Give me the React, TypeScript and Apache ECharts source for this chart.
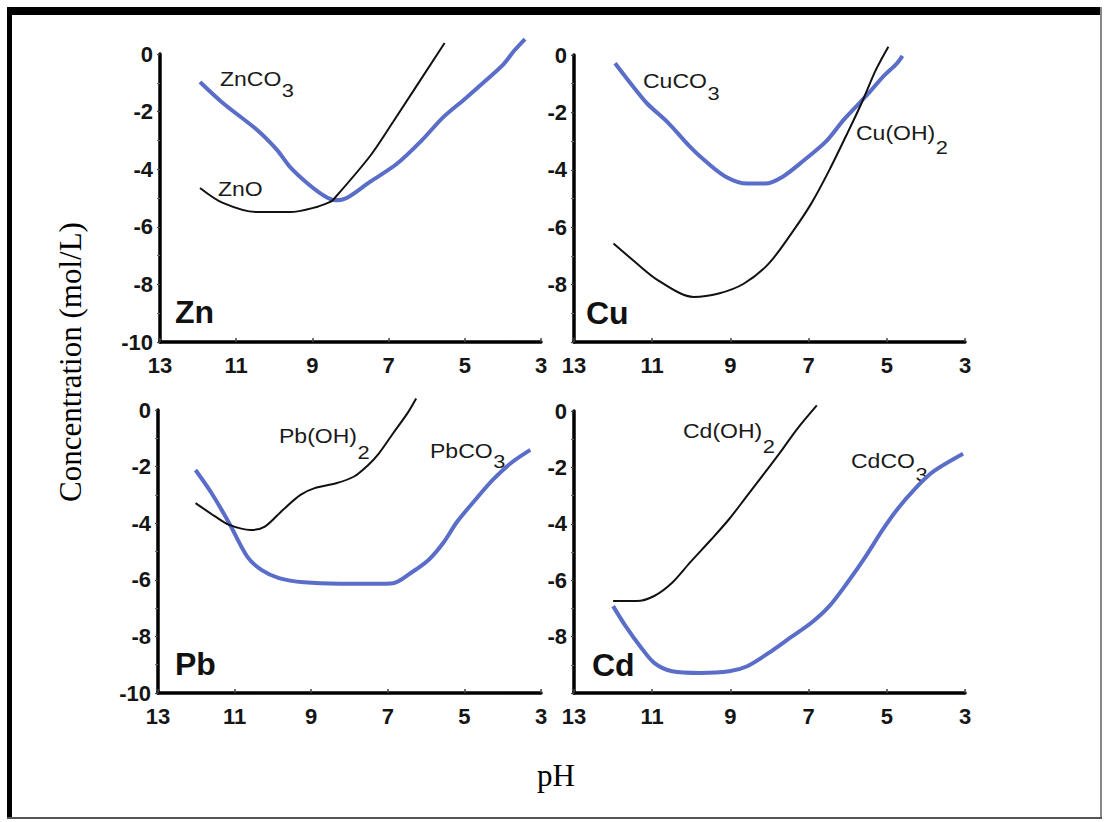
import React, { useEffect, useRef } from "react";
import * as echarts from "echarts";

// pH axis ticks (reversed) and log concentration ticks
const phTicks = [13, 11, 9, 7, 5, 3];
const concTicks = [0, -2, -4, -6, -8, -10];

const panelNames = ["Zn", "Cu", "Pb", "Cd"];

// Zn panel
const znCO3: [number, number][] = [
  [11.95, -0.97], [11.35, -1.7], [10.45, -2.64], [9.93, -3.33], [9.59, -3.92],
  [9.14, -4.48], [8.72, -4.9], [8.4, -5.08], [8.1, -5.0], [7.49, -4.44],
  [6.79, -3.82], [6.13, -3.0], [5.57, -2.2], [5.0, -1.56], [4.45, -0.92],
  [3.98, -0.35], [3.7, 0.12], [3.42, 0.52],
];
const znO: [number, number][] = [
  [11.95, -4.65], [11.35, -5.17], [10.45, -5.49], [9.59, -5.49], [8.88, -5.31],
  [8.54, -5.14], [8.46, -5.07], [7.49, -3.55], [6.88, -2.35], [5.53, 0.38],
];

// Cu panel
const cuCO3: [number, number][] = [
  [11.95, -0.29], [11.49, -1.1], [11.13, -1.69], [10.58, -2.38], [10.03, -3.2],
  [9.67, -3.66], [9.12, -4.24], [8.57, -4.48], [8.11, -4.48], [7.66, -4.24],
  [7.11, -3.66], [6.56, -3.02], [6.11, -2.27], [5.83, -1.86], [5.47, -1.34],
  [5.1, -0.76], [4.74, -0.29], [4.6, -0.03],
];
const cuOH2: [number, number][] = [
  [11.99, -6.57], [11.49, -7.15], [10.85, -7.85], [9.94, -8.43], [9.3, -8.31],
  [8.66, -7.97], [8.02, -7.27], [7.38, -6.1], [6.93, -5.17], [6.47, -4.01],
  [6.01, -2.73], [5.65, -1.69], [5.28, -0.52], [4.96, 0.29],
];

// Pb panel
const pbOH2: [number, number][] = [
  [12.02, -3.29], [11.51, -3.76], [11.14, -4.06], [10.58, -4.24], [10.21, -4.12],
  [9.74, -3.53], [9.28, -3.0], [8.91, -2.76], [8.35, -2.59], [7.88, -2.35],
  [7.51, -1.94], [7.23, -1.53], [6.86, -0.82], [6.49, -0.12], [6.26, 0.41],
];
const pbCO3: [number, number][] = [
  [12.02, -2.12], [11.6, -2.94], [11.14, -4.0], [10.67, -5.18], [10.3, -5.65],
  [9.84, -5.94], [9.19, -6.09], [8.26, -6.14], [7.33, -6.14], [6.86, -6.12],
  [6.4, -5.76], [5.93, -5.29], [5.56, -4.71], [5.19, -3.95], [4.72, -3.18],
  [4.26, -2.47], [3.79, -1.88], [3.28, -1.41],
];

// Cd panel
const cdOH2: [number, number][] = [
  [12.0, -6.74], [11.4, -6.74], [10.95, -6.56], [10.49, -6.09], [10.03, -5.37],
  [9.48, -4.54], [9.03, -3.83], [8.57, -3.0], [8.11, -2.17], [7.66, -1.34],
  [7.29, -0.63], [6.79, 0.2],
];
const cdCO3: [number, number][] = [
  [12.0, -6.92], [11.68, -7.63], [11.31, -8.34], [10.95, -8.93], [10.49, -9.23],
  [9.76, -9.29], [9.03, -9.23], [8.57, -9.05], [8.02, -8.58], [7.47, -8.04],
  [6.93, -7.51], [6.47, -6.92], [6.01, -6.09], [5.56, -5.2], [5.1, -4.2],
  [4.74, -3.5], [4.28, -2.76], [3.83, -2.17], [3.05, -1.52],
];

const blueSeries = [znCO3, cuCO3, pbCO3, cdCO3];
const blackSeries = [znO, cuOH2, pbOH2, cdOH2];
const blueNames = ["ZnCO3", "CuCO3", "PbCO3", "CdCO3"];
const blackNames = ["ZnO", "Cu(OH)2", "Pb(OH)2", "Cd(OH)2"];

const BLUE = "#5a6dc8";
const SANS = "'Liberation Sans', Arial, Helvetica, sans-serif";
const SERIF = "'Liberation Serif', 'Times New Roman', serif";

const grids = [
  { left: 160, top: 54, width: 381, height: 288 },
  { left: 574, top: 55, width: 391, height: 287 },
  { left: 158, top: 410, width: 383, height: 283 },
  { left: 574, top: 411, width: 391, height: 282 },
];

// curve label layout: [main text, subscript, x, y, subscript y]
const curveLabels: [string, string, number, number, number][] = [
  ["ZnCO", "3", 220, 79, 90],
  ["ZnO", "", 218, 189, 0],
  ["CuCO", "3", 643, 81, 93],
  ["Cu(OH)", "2", 856, 133, 147],
  ["Pb(OH)", "2", 279, 436, 452],
  ["PbCO", "3", 430, 451, 461],
  ["Cd(OH)", "2", 683, 431, 446],
  ["CdCO", "3", 851, 461, 474],
];
const panelLabelPos: [number, number][] = [
  [175, 312],
  [586, 313],
  [175, 664],
  [592, 665],
];

const LABEL_SCALE = 1.15;

function measure(text: string, font: string): number {
  const ctx = document.createElement("canvas").getContext("2d");
  if (!ctx) return text.length * 12;
  ctx.font = font;
  return ctx.measureText(text).width;
}

function buildOption() {
  const xAxis = grids.map((_, i) => ({
    gridIndex: i,
    type: "value",
    min: 3,
    max: 13,
    interval: 2,
    inverse: true,
    axisLine: { show: true, onZero: false, lineStyle: { color: "#000", width: 3.5 } },
    axisTick: { show: true, inside: true, length: 4, lineStyle: { color: "#444", width: 1.5 } },
    axisLabel: {
      color: "#151515",
      fontSize: 22,
      fontFamily: SANS,
      fontWeight: "bold",
      margin: 12,
      formatter: (v: number) => (phTicks.includes(v) ? String(v) : ""),
    },
    splitLine: { show: false },
  }));
  const yAxis = grids.map((_, i) => ({
    gridIndex: i,
    type: "value",
    min: -10,
    max: 0,
    interval: 2,
    axisLine: { show: true, onZero: false, lineStyle: { color: "#000", width: 3.5 } },
    axisTick: { show: true, length: 3, lineStyle: { color: "#444", width: 1.2 } },
    minorTick: { show: true, splitNumber: 2, length: 3, lineStyle: { color: "#666", width: 1 } },
    axisLabel: {
      color: "#151515",
      fontSize: 22,
      fontFamily: SANS,
      fontWeight: "bold",
      margin: 7,
      formatter: (v: number) => {
        if (!concTicks.includes(v)) return "";
        // right-hand panels show no label at the bottom of the axis
        if (i % 2 === 1 && v === -10) return "";
        return String(v);
      },
    },
    splitLine: { show: false },
  }));
  const series: any[] = [];
  grids.forEach((_, i) => {
    series.push({
      type: "line",
      name: blackNames[i],
      xAxisIndex: i,
      yAxisIndex: i,
      data: blackSeries[i],
      showSymbol: false,
      symbol: "none",
      smooth: 0.3,
      clip: false,
      silent: true,
      lineStyle: { color: "#111", width: 2 },
      z: 3,
    });
    series.push({
      type: "line",
      name: blueNames[i],
      xAxisIndex: i,
      yAxisIndex: i,
      data: blueSeries[i],
      showSymbol: false,
      symbol: "none",
      smooth: 0.3,
      clip: false,
      silent: true,
      lineStyle: { color: BLUE, width: 4 },
      z: 2,
    });
  });

  const graphic: any[] = [
    { type: "rect", shape: { x: 7, y: 7, width: 1095, height: 8 }, style: { fill: "#000" }, silent: true },
    { type: "rect", shape: { x: 7, y: 7, width: 5, height: 812 }, style: { fill: "#000" }, silent: true },
    { type: "rect", shape: { x: 1100, y: 7, width: 2, height: 812 }, style: { fill: "#888" }, silent: true },
    { type: "rect", shape: { x: 7, y: 817, width: 1095, height: 2 }, style: { fill: "#555" }, silent: true },
    {
      type: "text",
      x: 70,
      y: 362,
      rotation: Math.PI / 2,
      style: {
        text: "Concentration (mol/L)",
        fontSize: 31,
        fontFamily: SERIF,
        fill: "#000",
        textAlign: "center",
        textVerticalAlign: "middle",
        align: "center",
        verticalAlign: "middle",
      },
    },
    {
      type: "text",
      x: 556,
      y: 775,
      style: {
        text: "pH",
        fontSize: 31,
        fontFamily: SERIF,
        fill: "#000",
        textAlign: "center",
        textVerticalAlign: "middle",
        align: "center",
        verticalAlign: "middle",
      },
    },
  ];
  panelNames.forEach((name, i) => {
    graphic.push({
      type: "text",
      x: panelLabelPos[i][0],
      y: panelLabelPos[i][1],
      style: {
        text: name,
        fontSize: 32,
        fontWeight: "bold",
        fontFamily: SANS,
        fill: "#111",
        textAlign: "left",
        textVerticalAlign: "middle",
        align: "left",
        verticalAlign: "middle",
      },
    });
  });
  const mainFont = `20px ${SANS}`;
  curveLabels.forEach(([main, sub, x, y, sy]) => {
    graphic.push({
      type: "text",
      x,
      y,
      scaleX: LABEL_SCALE,
      style: {
        text: main,
        fontSize: 20,
        fontFamily: SANS,
        fill: "#1a1a1a",
        textAlign: "left",
        textVerticalAlign: "middle",
        align: "left",
        verticalAlign: "middle",
      },
    });
    if (sub) {
      const w = measure(main, mainFont) * LABEL_SCALE;
      graphic.push({
        type: "text",
        x: x + w + 0.5,
        y: sy,
        scaleX: LABEL_SCALE,
        style: {
          text: sub,
          fontSize: 19,
          fontFamily: SANS,
          fill: "#1a1a1a",
          textAlign: "left",
          textVerticalAlign: "middle",
          align: "left",
          verticalAlign: "middle",
        },
      });
    }
  });

  return {
    animation: false,
    backgroundColor: "#fff",
    grid: grids.map((g) => ({ ...g, containLabel: false })),
    xAxis,
    yAxis,
    series,
    graphic,
  };
}

export default function App() {
  const ref = useRef<HTMLDivElement>(null);
  useEffect(() => {
    if (!ref.current) return;
    const chart = echarts.init(ref.current, null, { renderer: "svg" });
    chart.setOption(buildOption() as any);
    return () => chart.dispose();
  }, []);
  return (
    <div
      ref={ref}
      style={{ position: "absolute", left: 0, top: 0, width: 1105, height: 822, background: "#fff" }}
    />
  );
}
